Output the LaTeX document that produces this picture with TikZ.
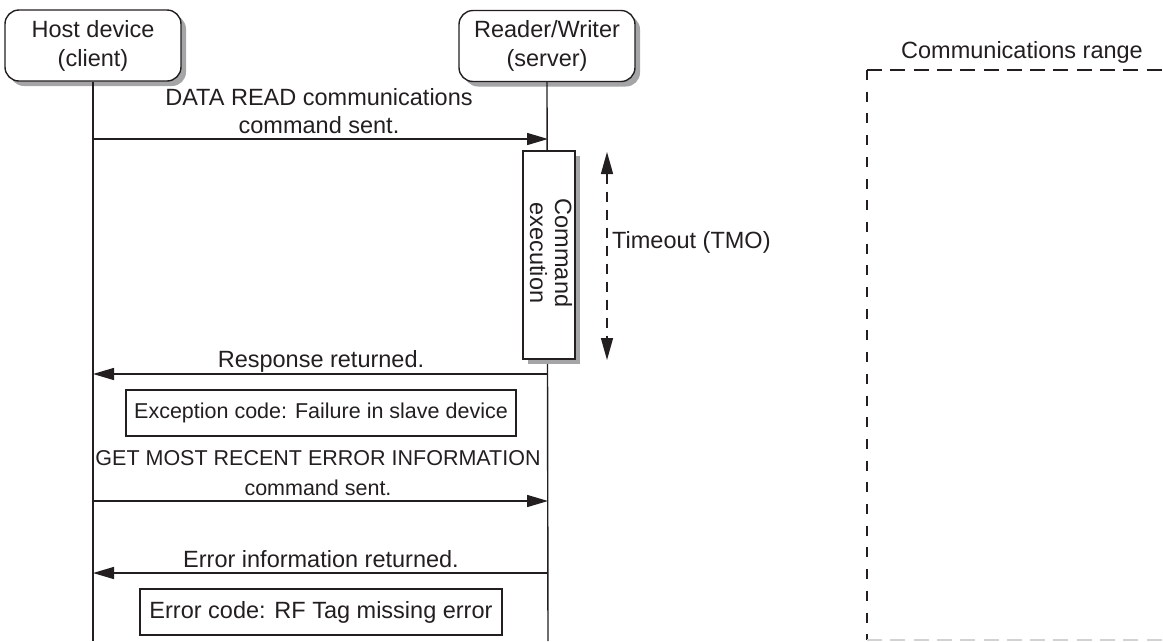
\documentclass[tikz,border=0pt]{standalone}
\usepackage{fontspec}
\setmainfont{Liberation Sans}
\usetikzlibrary{arrows.meta,shadows}
\definecolor{shadegray}{RGB}{165,165,168}
\definecolor{inkgray}{RGB}{35,31,32}
\begin{document}
\begin{tikzpicture}[x=1pt,y=-1pt,
  every node/.style={inner sep=0pt, text=inkgray, font=\fontsize{23.5}{28}\selectfont},
  dev/.style={draw=inkgray, line width=1.4pt, rounded corners=14pt, fill=white,
    minimum width=176pt, minimum height=71pt, align=center,
    font=\fontsize{23.5}{29}\selectfont,
    drop shadow={shadow xshift=5pt, shadow yshift=-5pt, fill=shadegray, opacity=1}},
  cmdbox/.style={draw=inkgray, line width=1.2pt, fill=white, minimum width=52pt, minimum height=208pt,
    drop shadow={shadow xshift=5pt, shadow yshift=-5pt, fill=shadegray, opacity=1}},
  codebox/.style={draw=inkgray, line width=1.1pt, fill=white, minimum height=46pt},
  life/.style={draw=inkgray, line width=1.4pt},
  msg/.style={draw=inkgray, line width=1.5pt, -{Triangle[length=21pt,width=12pt]}},
  tmo/.style={draw=inkgray, line width=1.4pt, dash pattern=on 10pt off 8pt,
    {Triangle[length=22pt,width=12pt]}-{Triangle[length=22pt,width=12pt]}},
  rangetop/.style={draw=inkgray, line width=1.6pt, dash pattern=on 15pt off 8.3pt},
  rangeside/.style={draw=inkgray, line width=1.6pt, dash pattern=on 10pt off 11.7pt},
  lbl/.style={anchor=base},
  lbl2/.style={anchor=south, align=center}
]
\useasboundingbox (0,0) rectangle (1163,641);

% lifelines
\coordinate (hb) at (93,641);
\coordinate (rb) at (548,641);
\node[dev] (host) at (93,45.5) {Host device\\(client)};
\node[dev] (rw) at (547,46) {Reader/Writer\\(server)};
\draw[life] (host.south) -- (hb);
\draw[life] (rw.south) -- (rb);

% message 1
\coordinate (h1) at (93,139);
\coordinate (r1) at (548,139);
\draw[msg] (h1) -- (r1);
\node[lbl2] (m1) at (319,134) {DATA READ communications\\command sent.};

% command execution
\node[cmdbox] (cmd) at (549,255) {};
\node[rotate=-90, align=center, font=\fontsize{23.5}{25}\selectfont] (cmdtxt) at (551,253) {Command\\execution};

% timeout
\coordinate (t1) at (607,152);
\coordinate (t2) at (607,360);
\draw[tmo] (t1) -- (t2);
\node[anchor=base west] (tmol) at (612,248) {Timeout (TMO)};

% response
\coordinate (r2) at (548,374);
\coordinate (h2) at (93,374);
\draw[msg] (r2) -- (h2);
\node[lbl] (m2) at (321,367) {Response returned.};
\node[codebox, minimum width=390pt, font=\fontsize{21.5}{26}\selectfont] (exc) at (321,413) {Exception code: Failure in slave device};

% get most recent error
\coordinate (h3) at (93,501);
\coordinate (r3) at (548,501);
\draw[msg] (h3) -- (r3);
\node[lbl2, font=\fontsize{21.5}{30}\selectfont] (m3) at (318,496) {GET MOST RECENT ERROR INFORMATION\\command sent.};

% error info returned
\coordinate (r4) at (548,573);
\coordinate (h4) at (93,573);
\draw[msg] (r4) -- (h4);
\node[lbl] (m4) at (321,567) {Error information returned.};
\node[codebox, minimum width=362pt] (err) at (321,612) {Error code: RF Tag missing error};

% communications range
\node[lbl] (rangel) at (1022,58) {Communications range};
\coordinate (ra) at (1163,70);
\coordinate (rc) at (867,70);
\coordinate (rd) at (867,640);
\coordinate (re) at (1163,640);
\draw[rangetop] (rc) -- (ra);
\draw[rangeside] (rc) -- (rd);
\draw[rangetop, draw=gray!35] (rd) -- (re);
\end{tikzpicture}
\end{document}
